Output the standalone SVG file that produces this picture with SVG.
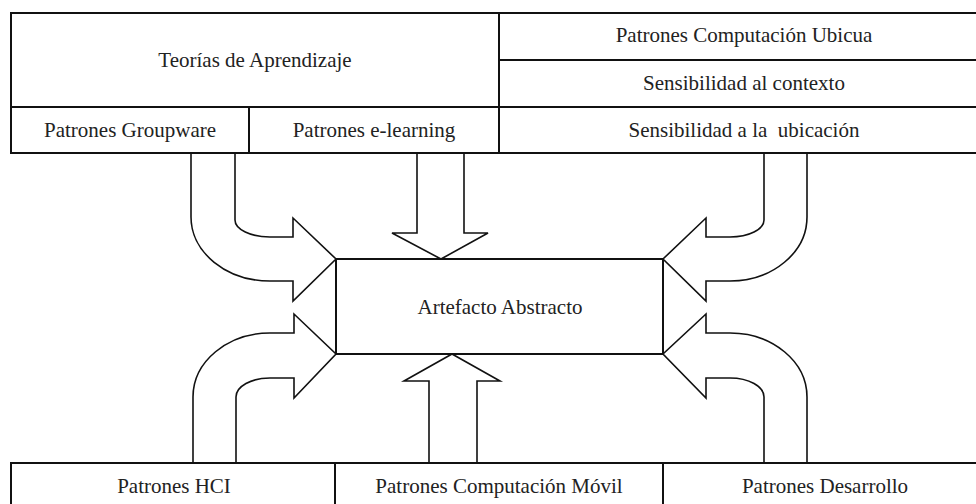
<svg xmlns="http://www.w3.org/2000/svg" width="976" height="504" viewBox="0 0 976 504">
  <style>
    .box { fill: #ffffff; stroke: #111111; stroke-width: 2; }
    .lbl { font-family: "Liberation Serif", "DejaVu Serif", serif; font-size: 21px; fill: #222222; text-anchor: middle; }
    .arrow { fill: none; stroke: #111111; stroke-width: 1.6; stroke-linejoin: miter; }
  </style>
  <rect width="976" height="504" fill="#ffffff"/>

  <!-- upper band of pattern sources -->
  <g id="teorias">
    <rect class="box" x="11" y="13" width="488" height="94"/>
    <text class="lbl" x="255" y="67">Teorías de Aprendizaje</text>
  </g>
  <g id="groupware">
    <rect class="box" x="11" y="107" width="238" height="46"/>
    <text class="lbl" x="130" y="137">Patrones Groupware</text>
  </g>
  <g id="elearning">
    <rect class="box" x="249" y="107" width="250" height="46"/>
    <text class="lbl" x="374" y="137">Patrones e-learning</text>
  </g>
  <g id="ubicua">
    <rect class="box" x="499" y="13" width="490" height="47"/>
    <text class="lbl" x="744" y="42">Patrones Computación Ubicua</text>
  </g>
  <g id="contexto">
    <rect class="box" x="499" y="60" width="490" height="47"/>
    <text class="lbl" x="744" y="90">Sensibilidad al contexto</text>
  </g>
  <g id="ubicacion">
    <rect class="box" x="499" y="107" width="490" height="46"/>
    <text class="lbl" x="744" y="137">Sensibilidad a la&#160; ubicación</text>
  </g>

  <!-- central artefact -->
  <g id="artefacto">
    <rect class="box" x="336" y="259" width="327" height="95"/>
    <text class="lbl" x="500" y="314">Artefacto Abstracto</text>
  </g>

  <!-- lower band of pattern sources -->
  <g id="hci">
    <rect class="box" x="11" y="463" width="324" height="52"/>
    <text class="lbl" x="174" y="493">Patrones HCI</text>
  </g>
  <g id="movil">
    <rect class="box" x="335" y="463" width="328" height="52"/>
    <text class="lbl" x="499" y="493">Patrones Computación Móvil</text>
  </g>
  <g id="desarrollo">
    <rect class="box" x="663" y="463" width="326" height="52"/>
    <text class="lbl" x="825" y="493">Patrones Desarrollo</text>
  </g>

  <!-- block arrows feeding the artefact -->
  <g id="connectors">
    <path class="arrow" d="M 191 153 V 217 A 79 64 0 0 0 270 281 H 293 V 301 L 336 259 L 293 218 V 237 H 270 A 35 17 0 0 1 235 220 V 153"/>
    <path class="arrow" d="M 417 153 V 233 H 392 L 441 259 L 488 233 H 464 V 153"/>
    <path class="arrow" d="M 807 153 V 217 A 77 64 0 0 1 730 281 H 706 V 301 L 663 259 L 706 218 V 237 H 730 A 34 17 0 0 0 764 220 V 153"/>
    <path class="arrow" d="M 193 463 V 397 A 77 64 0 0 1 270 333 H 294 V 314 L 336 354 L 294 398 V 378 H 270 A 34 19 0 0 0 236 397 V 463"/>
    <path class="arrow" d="M 429 463 V 381 H 404 L 452 354 L 500 381 H 477 V 463"/>
    <path class="arrow" d="M 807 463 V 397 A 77 64 0 0 0 730 333 H 706 V 314 L 663 354 L 706 398 V 378 H 730 A 34 19 0 0 1 764 397 V 463"/>
  </g>
</svg>
